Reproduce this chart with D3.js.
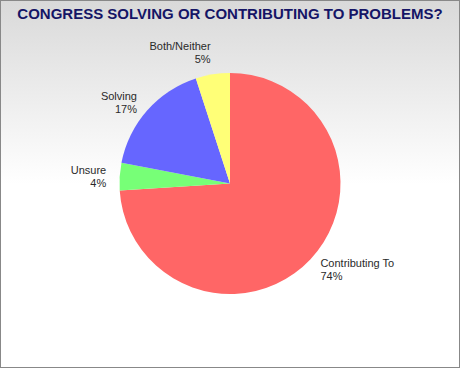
<!DOCTYPE html>
<html>
<head>
<meta charset="utf-8">
<script src="https://cdn.jsdelivr.net/npm/d3@7"></script>
<style>
  html, body { margin: 0; padding: 0; background: #fff; }
  svg { display: block; }
</style>
</head>
<body>
<svg id="chart" width="460" height="368"></svg>
<script>
const categories = ["Contributing To", "Unsure", "Solving", "Both/Neither"];
const values = [74, 4, 17, 5];
const colors = ["#ff6666", "#77ff77", "#6666ff", "#ffff77"];
const title = "CONGRESS SOLVING OR CONTRIBUTING TO PROBLEMS?";

const W = 460, H = 368;
const cx = 230, cy = 183.5, R = 110.5;

const svg = d3.select("#chart");
const defs = svg.append("defs");
const grad = defs.append("linearGradient").attr("id", "bg").attr("x1", 0).attr("y1", 0).attr("x2", 0).attr("y2", 1);
grad.append("stop").attr("offset", "0%").attr("stop-color", "#d9d9d9");
grad.append("stop").attr("offset", "50%").attr("stop-color", "#ffffff");
grad.append("stop").attr("offset", "100%").attr("stop-color", "#ffffff");

svg.append("rect").attr("x", 0.5).attr("y", 0.5).attr("width", W - 1).attr("height", H - 1)
  .attr("fill", "url(#bg)").attr("stroke", "#888").attr("stroke-width", 1);

svg.append("text")
  .attr("x", W / 2).attr("y", 18.5)
  .attr("text-anchor", "middle")
  .attr("font-family", "Liberation Sans, Arial, sans-serif")
  .attr("font-weight", "bold")
  .attr("font-size", 15)
  .attr("fill", "#151566")
  .text(title);

const data = categories.map((c, i) => ({ name: c, value: values[i], color: colors[i] }));
const pie = d3.pie().sort(null).value(d => d.value).startAngle(0).endAngle(2 * Math.PI);
const arcs = pie(data);
const arc = d3.arc().innerRadius(0).outerRadius(R);

const g = svg.append("g").attr("transform", `translate(${cx},${cy})`);
g.selectAll("path").data(arcs).join("path")
  .attr("d", arc)
  .attr("fill", d => d.data.color);

const labelR = 124;
const lbl = svg.append("g")
  .attr("font-family", "Liberation Sans, Arial, sans-serif")
  .attr("font-size", 11)
  .attr("fill", "#2a2a2a");

arcs.forEach(a => {
  const mid = (a.startAngle + a.endAngle) / 2;
  const sx = Math.sin(mid), cyv = Math.cos(mid);
  const px = cx + labelR * sx;
  let py = cy - labelR * cyv;
  const shift = 10 * Math.max(0, (cyv - 0.8) / 0.2);
  const center = py - shift + 1.5;
  const anchor = sx >= 0 ? "start" : "end";
  const t = lbl.append("text").attr("text-anchor", anchor);
  t.append("tspan").attr("x", px).attr("y", center - 3).text(a.data.name);
  t.append("tspan").attr("x", px).attr("y", center + 10).text(a.data.value + "%");
});
</script>
</body>
</html>
